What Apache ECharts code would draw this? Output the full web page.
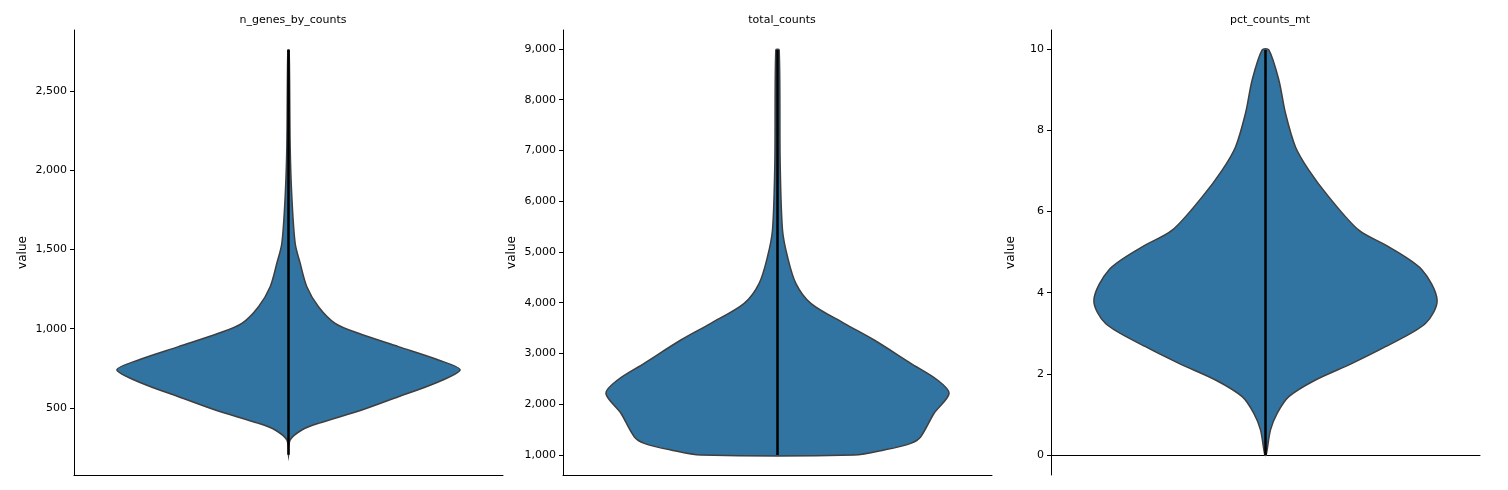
<!DOCTYPE html>
<html>
<head>
<meta charset="utf-8">
<script src="https://cdn.jsdelivr.net/npm/echarts@6/dist/echarts.min.js"></script>
<style>html,body{margin:0;padding:0;background:#fff}#chart{width:1508px;height:490px}</style>
</head>
<body>
<div id="chart"></div>
<script>
// violin outlines: value along y, relative half-width
var titles = ['n_genes_by_counts', 'total_counts', 'pct_counts_mt'];

var genesVals = [204, 298, 361, 403, 487, 571, 656, 740, 803, 887, 971, 1034, 1139, 1265, 1413, 1539, 1833, 2149, 2759];
var genesWidth = [0, 5, 40, 90, 220, 330, 440, 515, 450, 330, 210, 140, 90, 55, 35, 20, 10, 5, 2];
var genesRange = [204, 2759];

var totalVals = [1000, 1099, 1230, 1361, 1822, 2215, 2478, 2807, 3266, 3595, 3989, 4383, 4907, 5433, 6748, 8980];
var totalWidth = [230, 320, 400, 430, 470, 515, 480, 400, 290, 200, 100, 55, 30, 15, 8, 5];
var totalRange = [1000, 8980];

var mtVals = [0, 0.62, 1.03, 1.44, 1.85, 2.26, 2.67, 3.24, 3.82, 4.56, 5.13, 5.54, 6.36, 7.02, 7.59, 8.42, 9.24, 9.98];
var mtWidth = [2, 15, 35, 70, 150, 260, 360, 480, 515, 470, 370, 280, 190, 130, 90, 60, 40, 10];
var mtRange = [0, 9.98];

var genesTicks = [500, 1000, 1500, 2000, 2500];
var totalTicks = [1000, 2000, 3000, 4000, 5000, 6000, 7000, 8000, 9000];
var mtTicks = [0, 2, 4, 6, 8, 10];

var panels = [
    {vals: genesVals, width: genesWidth, range: genesRange, ticks: genesTicks, min: 77, max: 2885, left: 74},
    {vals: totalVals, width: totalWidth, range: totalRange, ticks: totalTicks, min: 606, max: 9374, left: 563},
    {vals: mtVals, width: mtWidth, range: mtRange, ticks: mtTicks, min: -0.49, max: 10.47, left: 1051}
];

var chart = echarts.init(document.getElementById('chart'));
var grids = [], xAxes = [], yAxes = [], series = [], titleOpts = [];
var font = 'DejaVu Sans';

panels.forEach(function (p, i) {
    grids.push({left: p.left, width: 429, top: 30, bottom: 15});
    titleOpts.push({
        text: titles[i], left: p.left + 214, top: 10, textAlign: 'center',
        textStyle: {fontSize: 11, fontWeight: 'normal', color: '#000', fontFamily: font}
    });
    xAxes.push({
        type: 'category', gridIndex: i, data: [''],
        axisLine: {lineStyle: {color: '#000', width: 1}},
        axisTick: {alignWithLabel: true, length: 4, lineStyle: {color: '#000'}},
        axisLabel: {show: false}
    });
    yAxes.push({
        type: 'value', gridIndex: i, min: p.min, max: p.max,
        name: 'value', nameLocation: 'middle', nameGap: i == 2 ? 34 : 45, nameRotate: 90,
        nameTextStyle: {fontSize: 12, color: '#000', fontFamily: font},
        axisLine: {show: true, lineStyle: {color: '#000', width: 1}},
        axisTick: {show: true, length: 4, customValues: p.ticks, lineStyle: {color: '#000'}},
        axisLabel: {customValues: p.ticks, fontSize: 11, color: '#000', fontFamily: font, margin: 7},
        splitLine: {show: false}
    });
    var maxW = Math.max.apply(null, p.width);
    series.push({
        type: 'custom', xAxisIndex: i, yAxisIndex: i,
        data: [0],
        renderItem: function (params, api) {
            var band = api.size([1, 0])[0];
            var scale = band * 0.4 / maxW;
            var cx = api.coord([0, p.vals[0]])[0];
            var right = [], left = [];
            p.vals.forEach(function (v, k) {
                var y = api.coord([0, v])[1];
                right.push([cx + p.width[k] * scale, y]);
                left.push([cx - p.width[k] * scale, y]);
            });
            var pts = right.concat(left.reverse());
            var y0 = api.coord([0, p.range[0]])[1];
            var y1 = api.coord([0, p.range[1]])[1];
            return {
                type: 'group',
                children: [{
                    type: 'polygon',
                    shape: {points: pts, smooth: 0.3},
                    style: {fill: '#3274a1', stroke: '#3f3f3f', lineWidth: 1.5}
                }, {
                    type: 'line',
                    shape: {x1: cx, y1: y0, x2: cx, y2: y1},
                    style: {stroke: '#000', lineWidth: 2.5}
                }]
            };
        }
    });
});

chart.setOption({
    animation: false,
    title: titleOpts,
    grid: grids,
    xAxis: xAxes,
    yAxis: yAxes,
    series: series
});
</script>
</body>
</html>
